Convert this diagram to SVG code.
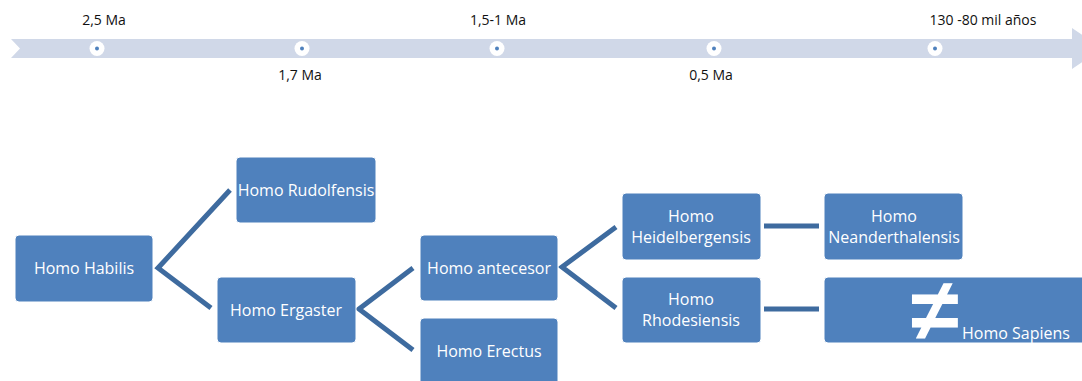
<svg xmlns="http://www.w3.org/2000/svg" width="1082" height="381" viewBox="0 0 1082 381">
  <style>
    .box { fill: #4f81bd; stroke: #ffffff; stroke-width: 1; }
    .lbl { font-family: "Open Sans", "Liberation Sans", Arial, sans-serif; font-size: 16px; fill: #ffffff; text-anchor: middle; }
    .date { font-family: "Open Sans", "Liberation Sans", Arial, sans-serif; font-size: 14px; fill: #111111; text-anchor: middle; }
    .link { stroke: #3e6b9f; stroke-width: 5; fill: none; }
    .tick { fill: #ffffff; }
    .dot { fill: #4f81bd; }
  </style>

  <!-- timeline band -->
  <g id="timeline">
    <polygon points="11,39 1072,39 1072,28 1102,48.5 1072,69 1072,58 11,58 20,48.5" fill="#d0d8e8"/>
    <circle class="tick" cx="97" cy="48.5" r="7.5"/><circle class="dot" cx="97" cy="48.5" r="2"/>
    <circle class="tick" cx="302" cy="48.5" r="7.5"/><circle class="dot" cx="302" cy="48.5" r="2"/>
    <circle class="tick" cx="497" cy="48.5" r="7.5"/><circle class="dot" cx="497" cy="48.5" r="2"/>
    <circle class="tick" cx="714" cy="48.5" r="7.5"/><circle class="dot" cx="714" cy="48.5" r="2"/>
    <circle class="tick" cx="935" cy="48.5" r="7.5"/><circle class="dot" cx="935" cy="48.5" r="2"/>
    <text class="date" x="104" y="25">2,5 Ma</text>
    <text class="date" x="300" y="80">1,7 Ma</text>
    <text class="date" x="498" y="25">1,5-1 Ma</text>
    <text class="date" x="711" y="80">0,5 Ma</text>
    <text class="date" x="983" y="25">130 -80 mil años</text>
  </g>

  <!-- connectors -->
  <g id="connectors">
    <polyline class="link" points="230,190 158,268 211,308"/>
    <polyline class="link" points="413,268 359,309 413,350"/>
    <polyline class="link" points="616,227 562,267 616,308"/>
    <line class="link" x1="764" y1="226" x2="819" y2="226" stroke-width="6"/>
    <line class="link" x1="764" y1="309" x2="819" y2="309" stroke-width="6"/>
  </g>

  <g id="habilis">
    <rect class="box" x="15" y="235" width="138" height="67" rx="4"/>
    <text class="lbl" x="84" y="274">Homo Habilis</text>
  </g>
  <g id="rudolfensis">
    <rect class="box" x="236" y="157" width="140" height="66" rx="4"/>
    <text class="lbl" x="306" y="196">Homo Rudolfensis</text>
  </g>
  <g id="ergaster">
    <rect class="box" x="217" y="277" width="139" height="66" rx="4"/>
    <text class="lbl" x="286" y="316">Homo Ergaster</text>
  </g>
  <g id="antecesor">
    <rect class="box" x="420" y="235" width="138" height="66" rx="4"/>
    <text class="lbl" x="489" y="274">Homo antecesor</text>
  </g>
  <g id="erectus">
    <rect class="box" x="420" y="318" width="138" height="80" rx="4"/>
    <text class="lbl" x="489" y="357">Homo Erectus</text>
  </g>
  <g id="heidelbergensis">
    <rect class="box" x="622" y="193" width="139" height="67" rx="4"/>
    <text class="lbl" x="691" y="222">Homo</text>
    <text class="lbl" x="691" y="243">Heidelbergensis</text>
  </g>
  <g id="rhodesiensis">
    <rect class="box" x="622" y="277" width="139" height="66" rx="4"/>
    <text class="lbl" x="691" y="305">Homo</text>
    <text class="lbl" x="691" y="326">Rhodesiensis</text>
  </g>
  <g id="neanderthalensis">
    <rect class="box" x="824" y="193" width="139" height="67" rx="4"/>
    <text class="lbl" x="894" y="222">Homo</text>
    <text class="lbl" x="894" y="243">Neanderthalensis</text>
  </g>
  <g id="sapiens">
    <rect class="box" x="824" y="277" width="290" height="66" rx="4"/>
    <text x="935" y="340" font-family="'Liberation Sans', Arial, sans-serif" font-size="88" font-weight="bold" fill="#ffffff" text-anchor="middle">≠</text>
    <text x="962" y="339" font-family="'Open Sans', 'Liberation Sans', Arial, sans-serif" font-size="16" fill="#ffffff">Homo Sapiens</text>
  </g>
</svg>
